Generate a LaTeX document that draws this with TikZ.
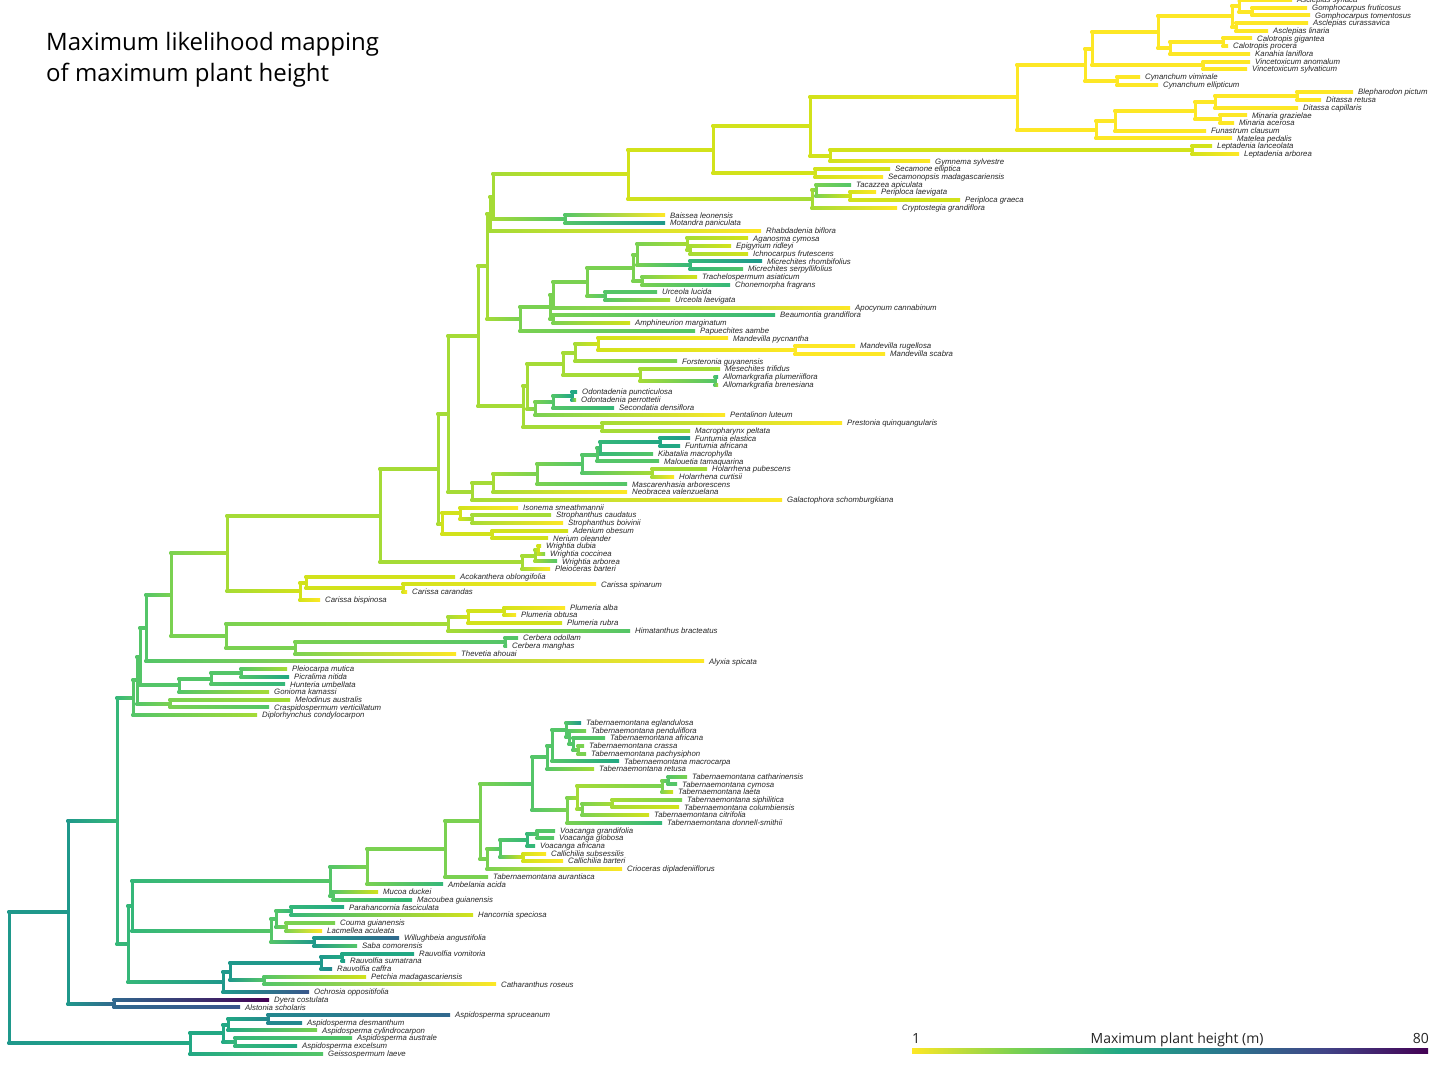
\documentclass[tikz,border=0pt]{standalone}
\usepackage{fontspec}
\setmainfont{Open Sans}
\newfontfamily\tipfont{Liberation Sans}
\usepackage{tikz}
\usetikzlibrary{calc}

%%%%% viridis palette %%%%%
\definecolor{v0}{HTML}{FDE725}
\definecolor{v1}{HTML}{D2E21B}
\definecolor{v2}{HTML}{A5DB36}
\definecolor{v3}{HTML}{7AD151}
\definecolor{v4}{HTML}{54C568}
\definecolor{v5}{HTML}{35B779}
\definecolor{v6}{HTML}{22A884}
\definecolor{v7}{HTML}{1F988B}
\definecolor{v8}{HTML}{23888E}
\definecolor{v9}{HTML}{2A788E}
\definecolor{v10}{HTML}{31688E}
\definecolor{v11}{HTML}{39568C}
\definecolor{v12}{HTML}{414487}
\definecolor{v13}{HTML}{472F7D}
\definecolor{v14}{HTML}{481A6C}
\definecolor{v15}{HTML}{440154}
\pgfdeclarehorizontalshading{viridisbar}{100bp}{color(0bp)=(v0); color(25bp)=(v0); color(35bp)=(v3); color(45bp)=(v6); color(55bp)=(v9); color(65bp)=(v12); color(75bp)=(v15); color(100bp)=(v15)}

\tikzset{
  branchline/.style={line width=3pt, line cap=square},
  tiplabel/.style={anchor=west, inner sep=0pt, xshift=5pt, text height=5.4pt, text depth=0pt,
    text=black!85, font=\tipfont\itshape\fontsize{7.8}{8}\selectfont},
}

% elbow from parent to child, shaded from parent colour to child colour
\newcommand\treeedge[2]{%
  \draw[branchline, draw=c-#1] (#1) -- (#1 |- #2);
  \shade[left color=c-#1, right color=c-#2] ($(#1 |- #2)+(-1.5pt,1.5pt)$) rectangle ($(#2)+(0pt,-1.5pt)$);}
\newcommand\treetip[5]{%
  \coordinate (#1) at (#2,#3);
  \xglobal\colorlet{c-#1}{#4}%
  \node[tiplabel] (#1-lbl) at (#1) {#5};}
\newcommand\treenode[5]{%
  \path let \p1=($(#3)!0.5!(#4)$) in (#2pt,\y1) coordinate (#1);
  \xglobal\colorlet{c-#1}{#5}%
  \treeedge{#1}{#3}\treeedge{#1}{#4}}

\begin{document}
\begin{tikzpicture}[x=1pt, y=-7.69pt]
\useasboundingbox (0pt,0pt) rectangle (1431pt,-1067pt);
\fill[white] (0pt,0pt) rectangle (1431pt,-1067pt);

%%%%% Title %%%%%
\node[anchor=base west, inner sep=0pt, font=\fontsize{24}{30}\selectfont] (title1) at (46pt,-51pt) {Maximum likelihood mapping};
\node[anchor=base west, inner sep=0pt, font=\fontsize{24}{30}\selectfont] (title2) at (46pt,-82pt) {of maximum plant height};

%%%%% Tips %%%%%
\foreach \nm/\xx/\cc/\lab [count=\r from 0] in {
ascsyr/1292/v0/Asclepias syriaca, gomfru/1307/v0/Gomphocarpus fruticosus, gomtom/1310/v0/Gomphocarpus tomentosus,
asccur/1308/v0/Asclepias curassavica, asclin/1268/v0/Asclepias linaria, calgig/1252/v0/Calotropis gigantea,
calpro/1228/v0/Calotropis procera, kanlan/1250/v0/Kanahia laniflora, vinano/1250/v0/Vincetoxicum anomalum,
vinsyl/1247/v0/Vincetoxicum sylvaticum, cynvim/1140/v0/Cynanchum viminale, cynell/1158/v0/Cynanchum ellipticum,
blepic/1353/v0/Blepharodon pictum, ditret/1321/v0/Ditassa retusa, ditcap/1298/v0/Ditassa capillaris,
mingra/1247/v0/Minaria grazielae, minace/1234/v0/Minaria acerosa, funcla/1206/v0/Funastrum clausum,
matped/1232/v0/Matelea pedalis, leplan/1212/v1/Leptadenia lanceolata, leparb/1239/v0/Leptadenia arborea,
gymsyl/930/v0/Gymnema sylvestre, secell/890/v1/Secamone elliptica, secmad/883/v0/Secamonopsis madagascariensis,
tacapi/851/v4/Tacazzea apiculata, perlae/876/v0/Periploca laevigata, pergra/960/v1/Periploca graeca,
crygra/897/v0/Cryptostegia grandiflora, baileo/665/v0/Baissea leonensis, motpan/665/v7/Motandra paniculata,
rhabif/761/v0/Rhabdadenia biflora, agacym/748/v1/Aganosma cymosa, epirid/731/v1/Epigynum ridleyi,
ichfru/748/v1/Ichnocarpus frutescens, micrho/762/v7/Micrechites rhombifolius, micser/743/v4/Micrechites serpyllifolius,
traasi/697/v1/Trachelospermum asiaticum, chofra/730/v5/Chonemorpha fragrans, urcluc/657/v4/Urceola lucida,
urclae/670/v2/Urceola laevigata, apocan/850/v0/Apocynum cannabinum, beagra/775/v5/Beaumontia grandiflora,
ampmar/630/v1/Amphineurion marginatum, papaam/695/v4/Papuechites aambe, manpyc/728/v0/Mandevilla pycnantha,
manrug/855/v0/Mandevilla rugellosa, mansca/885/v0/Mandevilla scabra, forguy/677/v3/Forsteronia guyanensis,
mestri/720/v2/Mesechites trifidus, allplu/718/v5/Allomarkgrafia plumeriiflora, allbre/718/v2/Allomarkgrafia brenesiana,
odopun/577/v6/Odontadenia puncticulosa, odoper/576/v2/Odontadenia perrottetii, secden/614/v5/Secondatia densiflora,
penlut/725/v0/Pentalinon luteum, prequi/842/v0/Prestonia quinquangularis, macpel/690/v2/Macropharynx peltata,
funela/690/v7/Funtumia elastica, funafr/680/v6/Funtumia africana, kibmac/653/v4/Kibatalia macrophylla,
maltam/659/v4/Malouetia tamaquarina, holpub/707/v2/Holarrhena pubescens, holcur/674/v0/Holarrhena curtisii,
masarb/627/v4/Mascarenhasia arborescens, neoval/627/v0/Neobracea valenzuelana, galsch/782/v0/Galactophora schomburgkiana,
isosme/518/v0/Isonema smeathmannii, strcau/551/v2/Strophanthus caudatus, strboi/563/v0/Strophanthus boivinii,
adeobe/568/v1/Adenium obesum, nerole/548/v1/Nerium oleander, wridub/541/v1/Wrightia dubia,
wricoc/545/v3/Wrightia coccinea, wriarb/557/v4/Wrightia arborea, plebar/550/v0/Pleioceras barteri,
acoobl/455/v1/Acokanthera oblongifolia, carspi/596/v0/Carissa spinarum, carcar/407/v0/Carissa carandas,
carbis/320/v0/Carissa bispinosa, plualb/565/v0/Plumeria alba, pluobt/516/v0/Plumeria obtusa,
plurub/562/v1/Plumeria rubra, himbra/630/v4/Himatanthus bracteatus, cerodo/518/v4/Cerbera odollam,
cerman/507/v4/Cerbera manghas, theaho/456/v0/Thevetia ahouai, alyspi/704/v0/Alyxia spicata,
plemut/287/v2/Pleiocarpa mutica, picnit/289/v6/Picralima nitida, hunumb/285/v5/Hunteria umbellata,
gonkam/269/v2/Gonioma kamassi, melaus/290/v2/Melodinus australis, craver/269/v4/Craspidospermum verticillatum,
dipcon/257/v2/Diplorhynchus condylocarpon, tabegl/581/v7/Tabernaemontana eglandulosa, tabpen/586/v3/Tabernaemontana penduliflora,
tabafr/605/v4/Tabernaemontana africana, tabcra/584/v3/Tabernaemontana crassa, tabpac/586/v3/Tabernaemontana pachysiphon,
tabmac/619/v6/Tabernaemontana macrocarpa, tabret/594/v2/Tabernaemontana retusa, tabcat/687/v3/Tabernaemontana catharinensis,
tabcym/677/v4/Tabernaemontana cymosa, tablae/673/v1/Tabernaemontana laeta, tabsip/682/v3/Tabernaemontana siphilitica,
tabcol/679/v1/Tabernaemontana columbiensis, tabcit/649/v1/Tabernaemontana citrifolia, tabdon/662/v5/Tabernaemontana donnell-smithii,
voagra/555/v4/Voacanga grandifolia, voaglo/554/v4/Voacanga globosa, voaafr/535/v5/Voacanga africana,
calsub/546/v0/Callichilia subsessilis, calbar/563/v0/Callichilia barteri, cridip/622/v0/Crioceras dipladeniiflorus,
tabaur/488/v3/Tabernaemontana aurantiaca, ambaci/443/v5/Ambelania acida, mucduc/378/v1/Mucoa duckei,
macgui/412/v5/Macoubea guianensis, parfas/344/v6/Parahancornia fasciculata, hanspe/473/v1/Hancornia speciosa,
cougui/335/v3/Couma guianensis, lacacu/322/v0/Lacmellea aculeata, wilang/399/v10/Willughbeia angustifolia,
sabcom/357/v4/Saba comorensis, rauvom/414/v6/Rauvolfia vomitoria, rausum/345/v7/Rauvolfia sumatrana,
raucaf/332/v8/Rauvolfia caffra, petmad/366/v1/Petchia madagascariensis, catros/496/v0/Catharanthus roseus,
ochopp/309/v11/Ochrosia oppositifolia, dyecos/269/v15/Dyera costulata, alssch/240/v11/Alstonia scholaris,
aspspr/450/v10/Aspidosperma spruceanum, aspdes/302/v8/Aspidosperma desmanthum, aspcyl/317/v3/Aspidosperma cylindrocarpon,
aspaus/352/v4/Aspidosperma australe, aspexc/297/v6/Aspidosperma excelsum, geilae/323/v4/Geissospermum laeve}{
\edef\tmp{\noexpand\treetip{\nm}{\xx}{\r}{\cc}{\lab}}\tmp
}

%%%%% Internal nodes, children first %%%%%
\foreach \nm/\xx/\ca/\cb/\cc in {
gomnd/1252/gomfru/gomtom/v0, ascA/1239/ascsyr/gomnd/v0, ascB/1236/asccur/asclin/v0, ascC/1232/ascA/ascB/v0,
calnd/1223/calgig/calpro/v0, kanA/1170/calnd/kanlan/v0, Zc/1158/ascC/kanA/v0, vinnd/1203/vinano/vinsyl/v0,
Zb/1092/Zc/vinnd/v0, cynnd/1117/cynvim/cynell/v0, Za/1085/Zb/cynnd/v0, blend/1297/blepic/ditret/v0,
ditnd/1215/blend/ditcap/v0, minnd/1220/mingra/minace/v0, AC/1195/ditnd/minnd/v0, AB/1115/AC/funcla/v0,
AA/1096/AB/matped/v0, Z/1017/Za/AA/v0, lepnd/1192/leplan/leparb/v1, gymnd/830/lepnd/gymsyl/v1,
Y3/810/Z/gymnd/v1, secnd/815/secell/secmad/v1, Y1/713/Y3/secnd/v1, pernd/850/perlae/pergra/v1,
Y2a/816/tacapi/pernd/v3, Y2/812/Y2a/crygra/v2, Y/628/Y1/Y2/v1, bainD/565/baileo/motpan/v4,
W8/493/Y/bainD/v2, W9/490/W8/rhabif/v2, agan2/690/epirid/ichfru/v2, agan/687/agacym/agan2/v2,
micnd/690/micrho/micser/v5, AE3/637/agan/micnd/v3, tranD/642/traasi/chofra/v3, AE/633/AE3/tranD/v3,
urcnd/605/urcluc/urclae/v4, up587/587/AE/urcnd/v3, W12/553/up587/apocan/v3, W13/553/beagra/ampmar/v3,
W11/550/W12/W13/v3, W10/520/W11/papaam/v3, W6/487/W9/W10/v2, rugnd/795/manrug/mansca/v0,
mannd/598/manpyc/rugnd/v1, AF/575/mannd/forguy/v2, allnd/715/allplu/allbre/v4, mesnd/640/mestri/allnd/v2,
mandA/563/AF/mesnd/v2, odond/572/odopun/odoper/v6, od553/553/odond/secden/v4, odoA/535/od553/penlut/v3,
W14/527/mandA/odoA/v2, prend/602/prequi/macpel/v2, W7/523/W14/prend/v2, W4/478/W6/W7/v2,
funnd/660/funela/funafr/v6, W19/600/funnd/kibmac/v5, W18/597/W19/maltam/v4, holnd/652/holpub/holcur/v2,
W17/582/W18/holnd/v4, W16/537/W17/masarb/v3, W15/493/W16/neoval/v2, W5/472/W15/galsch/v2,
W2/448/W4/W5/v2, strnd/472/strcau/strboi/v2, isond/460/isosme/strnd/v1, adend/492/adeobe/nerole/v1,
W3/442/isond/adend/v1, W1/438/W2/W3/v2, wri3/538/wridub/wricoc/v1, wri2/535/wri3/wriarb/v2,
wrind/522/wri2/plebar/v2, W/380/W1/wrind/v2, carsp/403/carspi/carcar/v1, car2/306/acoobl/carsp/v1,
carnd/300/car2/carbis/v1, H/227/W/carnd/v2, pluab/504/plualb/pluobt/v1, plu2/468/pluab/plurub/v1,
plund/448/plu2/himbra/v2, cernd/505/cerodo/cerman/v4, cerA/295/cernd/theaho/v3, I/226/plund/cerA/v3,
G/171/H/I/v3, F/146/G/alyspi/v4, plepic/241/plemut/picnit/v4, ple2/211/plepic/hunumb/v4,
plend/179/ple2/gonkam/v4, E/140/F/plend/v4, melnd/170/melaus/craver/v3, D/137/E/melnd/v4,
C/133/D/dipcon/v4, T3d/578/tabcra/tabpac/v3, T3c/573/tabafr/T3d/v4, T3b/569/tabpen/T3c/v4,
T3/566/tabegl/T3b/v4, T2/552/T3/tabmac/v4, T/547/T2/tabret/v4, U2a/668/tabcat/tabcym/v4,
U2/662/U2a/tablae/v3, U4/612/tabsip/tabcol/v2, U3/582/U4/tabcit/v3, U1/577/U2/U3/v2,
U/567/U1/tabdon/v3, R/532/T/U/v4, voa2/537/voagra/voaglo/v4, voand/527/voa2/voaafr/v5,
calind/523/calsub/calbar/v1, V/500/voand/calind/v4, S/487/V/cridip/v3, Q/480/R/S/v3,
P/445/Q/tabaur/v3, N/367/P/ambaci/v3, O/333/mucduc/macgui/v4, Kup/330/N/O/v4,
parnd/291/parfas/hanspe/v5, cound/286/cougui/lacacu/v3, n276/276/parnd/cound/v4, wilnd/314/wilang/sabcom/v7,
Klo/271/n276/wilnd/v4, K/132/Kup/Klo/v5, rau2/342/rauvom/rausum/v6, raund/321/rau2/raucaf/v7,
petnd/264/petmad/catros/v4, M/230/raund/petnd/v7, L/223/M/ochopp/v7, J/128/K/L/v5,
B/117/C/J/v5, dyend/114/dyecos/alssch/v10, A/68/B/dyend/v7, asp2/268/aspspr/aspdes/v8,
asp3/228/asp2/aspcyl/v6, asp4/235/aspaus/aspexc/v5, asp1/223/asp3/asp4/v6, aspnd/190/asp1/geilae/v6,
root/9/A/aspnd/v7}{
\edef\tmp{\noexpand\treenode{\nm}{\xx}{\ca}{\cb}{\cc}}\tmp
}

%%%%% Colour bar %%%%%
\shade[shading=viridisbar] (912pt,-1048pt) rectangle (1428pt,-1053.5pt);
\node[anchor=base west, inner sep=0pt, text=black!85, font=\fontsize{14}{16}\selectfont] (cbmin) at (912pt,-1043pt) {1};
\node[anchor=base, inner sep=0pt, text=black!85, font=\fontsize{14}{16}\selectfont] (cbname) at (1177pt,-1043pt) {Maximum plant height (m)};
\node[anchor=base east, inner sep=0pt, text=black!85, font=\fontsize{14}{16}\selectfont] (cbmax) at (1429pt,-1043pt) {80};
\end{tikzpicture}
\end{document}
